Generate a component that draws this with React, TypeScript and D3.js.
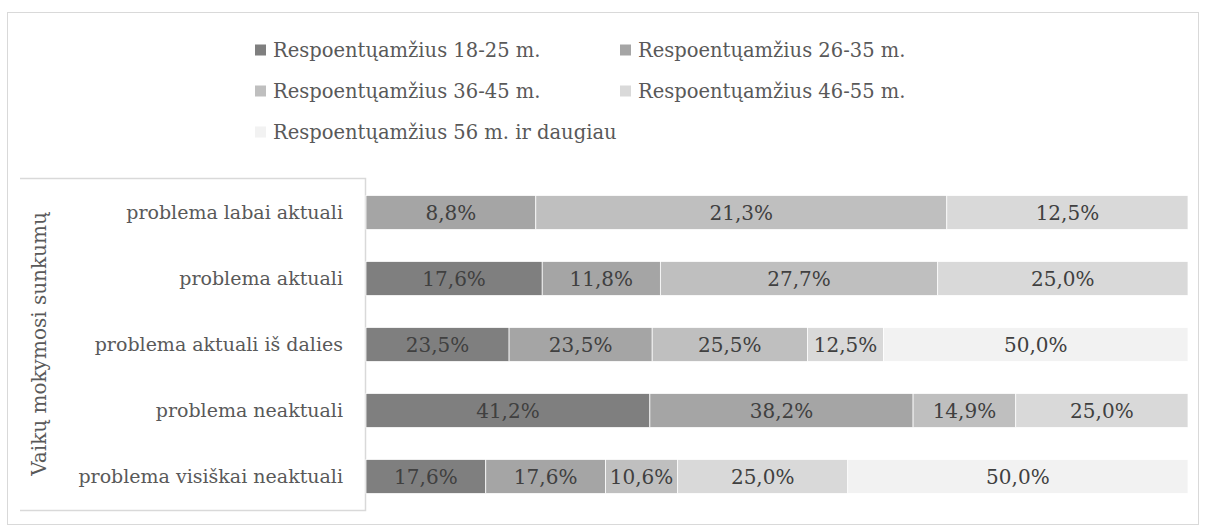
import React from "react";
import * as d3 from "d3";

const categories = [
  "problema labai aktuali",
  "problema aktuali",
  "problema aktuali iš dalies",
  "problema neaktuali",
  "problema visiškai neaktuali",
];
const seriesNames = [
  "Respoentųamžius 18-25 m.",
  "Respoentųamžius 26-35 m.",
  "Respoentųamžius 36-45 m.",
  "Respoentųamžius 46-55 m.",
  "Respoentųamžius 56 m. ir daugiau",
];
const age18_25 = [0, 17.6, 23.5, 41.2, 17.6];
const age26_35 = [8.8, 11.8, 23.5, 38.2, 17.6];
const age36_45 = [21.3, 27.7, 25.5, 14.9, 10.6];
const age46_55 = [12.5, 25.0, 12.5, 25.0, 25.0];
const age56plus = [0, 0, 50.0, 0, 50.0];
const seriesValues = [age18_25, age26_35, age36_45, age46_55, age56plus];
const colors = ["#7f7f7f", "#a5a5a5", "#bfbfbf", "#d9d9d9", "#f2f2f2"];
const axisTitle = "Vaikų mokymosi sunkumų";

const W = 1205;
const H = 531;
const FONT = "'DejaVu Serif', serif";

export default function App() {
  const rows = categories.map((c, i) => {
    const r: any = { cat: c };
    seriesNames.forEach((s, j) => (r[s] = seriesValues[j][i]));
    return r;
  });
  const stack = d3.stack<any>().keys(seriesNames).offset(d3.stackOffsetExpand);
  const stacked = stack(rows);

  const x = d3.scaleLinear().domain([0, 1]).range([366, 1188]);
  const y = d3
    .scaleBand<string>()
    .domain(categories)
    .range([179.5, 509.5])
    .paddingInner(0.485)
    .paddingOuter(0.2425);

  const legendPos = [
    [255, 50],
    [620, 50],
    [255, 91],
    [620, 91],
    [255, 132],
  ];

  const fmt = (v: number) => v.toFixed(1).replace(".", ",") + "%";

  return (
    <div style={{ position: "absolute", left: 0, top: 0 }}>
      <svg width={W} height={H} style={{ display: "block", fontFamily: FONT }}>
        <rect x={0} y={0} width={W} height={H} fill="#fff" />
        <rect x={7.5} y={12.5} width={1191} height={512} fill="#fff" stroke="#d9d9d9" strokeWidth={1} />
        {/* legend */}
        {seriesNames.map((s, i) => (
          <g key={s} transform={`translate(${legendPos[i][0]},${legendPos[i][1]})`}>
            <rect x={0} y={-5.5} width={11} height={11} fill={colors[i]} />
            <text x={18} y={0} dy="0.35em" fontSize={19.5} fill="#595959">
              {s}
            </text>
          </g>
        ))}
        {/* category box */}
        <path d="M20,178.5 H365.5 V510.5 H20" fill="none" stroke="#d9d9d9" strokeWidth={1.5} />
        <text
          transform={`translate(39,${(178 + 510) / 2}) rotate(-90)`}
          textAnchor="middle"
          dy="0.35em"
          fontSize={20}
          fill="#595959"
        >
          {axisTitle}
        </text>
        {categories.map((c) => (
          <text
            key={c}
            x={343}
            y={(y(c) as number) + y.bandwidth() / 2}
            dy="0.35em"
            textAnchor="end"
            fontSize={19}
            fill="#595959"
          >
            {c}
          </text>
        ))}
        {/* bars */}
        {stacked.map((layer, si) => (
          <g key={layer.key}>
            {layer.map((d, ci) => {
              const w = x(d[1]) - x(d[0]);
              if (w <= 0) return null;
              return (
                <rect
                  key={ci}
                  x={x(d[0])}
                  y={y(categories[ci])}
                  width={w}
                  height={y.bandwidth()}
                  fill={colors[si]}
                  stroke="#fff"
                  strokeWidth={0.75}
                />
              );
            })}
          </g>
        ))}
        {stacked.map((layer, si) => (
          <g key={layer.key + "-lbl"}>
            {layer.map((d, ci) => {
              const v = seriesValues[si][ci];
              if (!v) return null;
              return (
                <text
                  key={ci}
                  x={(x(d[0]) + x(d[1])) / 2}
                  y={(y(categories[ci]) as number) + y.bandwidth() / 2}
                  dy="0.35em"
                  textAnchor="middle"
                  fontSize={20}
                  fill="#404040"
                >
                  {fmt(v)}
                </text>
              );
            })}
          </g>
        ))}
      </svg>
    </div>
  );
}
